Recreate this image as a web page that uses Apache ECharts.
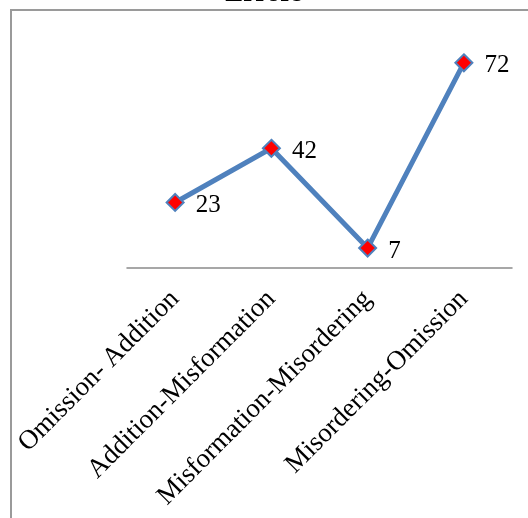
<!DOCTYPE html>
<html>
<head>
<meta charset="utf-8">
<script src="https://cdn.jsdelivr.net/npm/echarts@6/dist/echarts.min.js"></script>
<style>
html,body{margin:0;padding:0;background:#fff;}
#c{width:528px;height:518px;}
</style>
</head>
<body>
<div id="c"></div>
<script>
var categories = ['Omission- Addition', 'Addition-Misformation', 'Misformation-Misordering', 'Misordering-Omission'];
var errorValues = [23, 42, 7, 72];
var titleText = 'Errors';

var chart = echarts.init(document.getElementById('c'), null, {renderer: 'canvas'});
var serif = 'Liberation Serif, Times New Roman, serif';
chart.setOption({
  backgroundColor: '#fff',
  animation: false,
  title: {
    text: titleText,
    left: 'center',
    top: -24,
    textStyle: {fontFamily: serif, fontSize: 27, fontWeight: 'bold', color: '#000'}
  },
  graphic: [{
    type: 'rect',
    shape: {x: 11, y: 10, width: 700, height: 700},
    style: {fill: 'none', stroke: '#9a9a9a', lineWidth: 2},
    silent: true
  }],
  grid: {left: 127, right: 16, top: 40, bottom: 250, containLabel: false},
  xAxis: {
    type: 'category',
    data: categories,
    boundaryGap: true,
    axisLine: {lineStyle: {color: '#8a8a8a', width: 1.5}},
    axisTick: {show: false},
    axisLabel: {rotate: 45, interval: 0, margin: 27, fontFamily: serif, fontSize: 27, color: '#000'}
  },
  yAxis: {
    type: 'value',
    min: 0,
    max: 80,
    show: false,
    splitLine: {show: false}
  },
  series: [{
    type: 'line',
    data: errorValues,
    lineStyle: {color: '#4F81BD', width: 5},
    symbol: 'diamond',
    symbolSize: 17,
    itemStyle: {color: '#FF0000', borderColor: '#4F81BD', borderWidth: 2},
    label: {
      show: true,
      position: 'right',
      distance: 11,
      offset: [0, 3],
      fontFamily: serif,
      fontSize: 25,
      color: '#000'
    }
  }]
});
</script>
</body>
</html>
